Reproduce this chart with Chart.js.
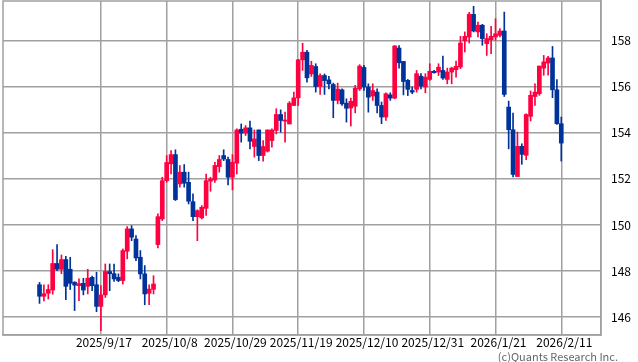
<!DOCTYPE html>
<html><head><meta charset="utf-8">
<script src="https://cdn.jsdelivr.net/npm/chart.js@4.4.1/dist/chart.umd.min.js"></script>
<style>
html,body{margin:0;padding:0;background:#fff;}
#wrap{position:relative;width:638px;height:362px;}
#credit{position:absolute;right:20px;top:349px;font:11px "Noto Sans CJK JP",sans-serif;color:#666;line-height:14px;}
</style></head><body>
<div id="wrap"><canvas id="c" width="638" height="362"></canvas><div id="credit">(c)Quants Research Inc.</div></div>
<script>
const dates=["2025/8/28","2025/8/29","2025/9/1","2025/9/2","2025/9/3","2025/9/4","2025/9/5","2025/9/8","2025/9/9","2025/9/10","2025/9/11","2025/9/12","2025/9/15","2025/9/16","2025/9/17","2025/9/18","2025/9/19","2025/9/22","2025/9/23","2025/9/24","2025/9/25","2025/9/26","2025/9/29","2025/9/30","2025/10/1","2025/10/2","2025/10/3","2025/10/6","2025/10/7","2025/10/8","2025/10/9","2025/10/10","2025/10/13","2025/10/14","2025/10/15","2025/10/16","2025/10/17","2025/10/20","2025/10/21","2025/10/22","2025/10/23","2025/10/24","2025/10/27","2025/10/28","2025/10/29","2025/10/30","2025/10/31","2025/11/3","2025/11/4","2025/11/5","2025/11/6","2025/11/7","2025/11/10","2025/11/11","2025/11/12","2025/11/13","2025/11/14","2025/11/17","2025/11/18","2025/11/19","2025/11/20","2025/11/21","2025/11/24","2025/11/25","2025/11/26","2025/11/27","2025/11/28","2025/12/1","2025/12/2","2025/12/3","2025/12/4","2025/12/5","2025/12/8","2025/12/9","2025/12/10","2025/12/11","2025/12/12","2025/12/15","2025/12/16","2025/12/17","2025/12/18","2025/12/19","2025/12/22","2025/12/23","2025/12/24","2025/12/25","2025/12/26","2025/12/29","2025/12/30","2025/12/31","2026/1/1","2026/1/2","2026/1/5","2026/1/6","2026/1/7","2026/1/8","2026/1/9","2026/1/12","2026/1/13","2026/1/14","2026/1/15","2026/1/16","2026/1/19","2026/1/20","2026/1/21","2026/1/22","2026/1/23","2026/1/26","2026/1/27","2026/1/28","2026/1/29","2026/1/30","2026/2/2","2026/2/3","2026/2/4","2026/2/5","2026/2/6","2026/2/9","2026/2/10","2026/2/11"];
const open=[147.41,146.91,147.04,147.18,148.33,148.08,148.50,148.08,147.52,147.37,147.47,147.34,147.73,147.41,146.47,146.97,147.98,147.89,147.73,147.59,148.86,149.83,149.39,148.60,147.88,147.04,147.21,149.15,150.26,151.92,152.65,153.05,151.78,152.29,151.85,151.01,150.36,150.31,150.72,151.90,151.95,152.53,153.01,152.84,152.07,152.68,154.15,153.98,154.21,153.40,154.12,153.01,153.20,153.66,154.10,154.79,154.50,154.38,155.18,155.51,157.16,157.49,156.55,156.87,156.00,156.48,156.29,156.09,155.40,155.86,155.28,155.07,155.15,155.90,156.83,155.98,155.59,155.76,155.18,154.68,155.64,155.50,157.67,157.09,156.27,155.83,155.88,156.45,155.98,156.31,156.66,156.63,156.70,156.31,156.63,156.73,156.85,157.98,158.15,159.13,158.37,158.66,157.86,158.03,158.15,158.22,158.41,155.11,154.13,152.10,153.41,153.02,154.71,155.57,155.69,156.80,157.02,157.24,155.86,154.39];
const high=[147.51,147.40,147.41,148.93,149.15,148.70,148.64,148.60,147.54,147.66,147.69,148.08,147.78,147.95,147.37,148.31,148.31,148.31,147.88,148.96,149.93,149.97,149.54,148.89,148.24,147.41,147.80,150.48,152.07,153.01,153.23,153.26,152.58,152.62,152.29,151.35,150.66,150.84,152.21,152.07,152.72,153.01,153.26,152.94,153.05,154.17,154.38,154.31,154.50,154.12,154.12,153.66,154.12,154.17,155.04,154.99,154.89,155.35,155.76,157.18,157.88,157.57,157.10,156.99,156.55,156.55,156.44,156.15,156.15,155.90,155.47,155.50,156.05,156.95,156.92,156.12,156.12,155.90,155.33,155.73,155.73,157.78,157.78,157.09,156.31,155.98,156.70,156.56,156.56,156.99,156.70,156.99,157.32,156.80,156.84,157.11,158.18,158.37,159.22,159.48,158.80,158.70,158.29,158.61,158.94,158.51,159.23,155.37,154.85,154.03,153.52,154.82,155.81,156.12,156.89,157.35,157.31,157.74,156.30,154.68];
const low=[146.60,146.71,146.79,147.00,148.02,147.89,146.76,147.20,146.29,146.72,146.97,147.01,147.15,146.24,145.42,146.86,147.15,147.55,147.54,147.44,148.53,149.32,148.45,147.66,146.54,146.54,147.01,149.00,150.19,151.85,152.21,151.06,151.64,151.64,150.91,150.19,149.32,150.26,150.41,151.46,151.85,152.29,152.79,151.74,151.52,152.21,153.59,153.88,153.30,152.94,152.79,152.77,153.16,153.37,153.95,154.02,153.59,154.38,155.18,155.18,156.70,156.19,156.44,155.76,155.66,155.66,155.90,154.65,155.25,155.18,154.46,154.29,154.86,155.83,155.83,154.89,155.40,154.86,154.39,154.53,155.40,155.47,156.80,155.64,155.61,155.69,155.76,155.90,155.73,156.27,156.58,156.48,156.31,156.12,156.12,156.41,156.78,157.50,157.89,158.37,158.15,157.79,157.35,157.43,158.00,158.15,155.57,153.30,152.08,152.10,152.63,152.83,154.51,155.18,155.62,156.49,156.49,155.52,154.36,152.77];
const close=[146.91,147.02,147.20,148.33,148.08,148.50,147.34,147.47,147.39,147.46,147.18,147.69,147.37,146.47,146.97,147.98,147.89,147.66,147.59,148.89,149.83,149.47,148.57,147.88,147.01,147.22,147.44,150.36,151.92,152.71,153.05,151.10,152.29,151.81,151.03,150.36,150.62,150.77,151.92,152.00,152.58,152.84,152.86,152.07,152.72,154.12,153.98,154.21,153.63,153.73,153.01,153.40,154.12,154.12,154.79,154.53,154.55,155.28,155.51,157.16,157.49,156.38,156.92,156.00,156.48,156.26,156.12,155.40,155.89,155.25,155.06,155.36,155.93,156.89,155.98,155.54,155.83,155.18,154.68,155.69,155.50,157.76,157.03,156.22,155.88,155.76,156.56,156.02,156.41,156.66,156.60,156.84,156.37,156.63,156.80,156.88,157.89,158.18,159.13,158.41,158.66,158.08,158.08,158.18,158.29,158.41,155.66,154.13,152.19,153.41,153.06,154.79,155.62,155.76,156.89,157.07,157.24,155.86,154.39,153.55];
const tickLabels=["2025/9/17","2025/10/8","2025/10/29","2025/11/19","2025/12/10","2025/12/31","2026/1/21","2026/2/11"];
const yTicks=[146,148,150,152,154,156,158];

const UP='#ff0040', DN='#003399';
const colors=close.map((c,i)=>c>=open[i]?UP:DN);
const tickIdx=tickLabels.map(l=>dates.indexOf(l));
const GRID='#a0a0a0';
const noPad=s=>{s.paddingTop=0;s.paddingBottom=0;s.paddingLeft=0;s.paddingRight=0;};
const frame={id:'frame',beforeDatasetsDraw(chart){const a=chart.chartArea,c=chart.ctx;c.save();c.strokeStyle=GRID;c.lineWidth=1.5;c.strokeRect(a.left,a.top,a.right-a.left,a.bottom-a.top);c.restore();}};
new Chart(document.getElementById('c'),{
  type:'bar',
  data:{datasets:[
    {label:'wick',data:dates.map((d,i)=>({x:i,y:[low[i],high[i]]})),backgroundColor:colors,barThickness:1,grouped:false,order:2},
    {label:'body',data:dates.map((d,i)=>({x:i,y:[open[i],close[i]]})),backgroundColor:colors,barThickness:4,grouped:false,order:1,minBarLength:1}
  ]},
  options:{
    responsive:false,animation:false,
    plugins:{legend:{display:false},tooltip:{enabled:false}},
    layout:{padding:{left:3,top:1,right:0,bottom:0}},
    scales:{
      x:{type:'linear',min:-8.33,max:128.06,offset:false,
        afterBuildTicks:s=>{s.ticks=tickIdx.map(v=>({value:v}));},
        afterFit:s=>{s.height=27;noPad(s);},
        ticks:{callback:v=>dates[v],autoSkip:false,maxRotation:0,color:'#000',padding:0,labelOffset:3,font:{family:'"Noto Sans CJK JP"',size:12}},
        grid:{color:GRID,lineWidth:1.5,drawTicks:false,offset:false},border:{color:GRID,width:1.5}},
      y:{position:'right',min:145.23,max:159.71,
        afterBuildTicks:s=>{s.ticks=yTicks.map(v=>({value:v}));},
        afterFit:s=>{s.width=37;noPad(s);},
        ticks:{color:'#000',padding:10,font:{family:'"Noto Sans CJK JP"',size:12}},
        grid:{color:GRID,lineWidth:1.5,drawTicks:false},border:{color:GRID,width:1.5}}
    }
  },
  plugins:[frame]
});
</script></body></html>
